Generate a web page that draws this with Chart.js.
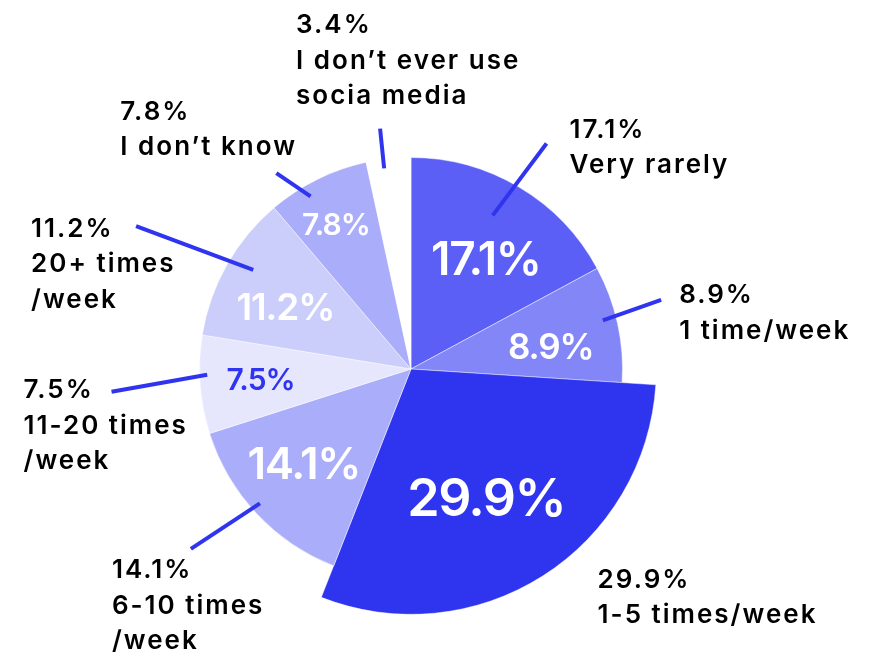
<!DOCTYPE html>
<html>
<head>
<meta charset="utf-8">
<script src="https://cdn.jsdelivr.net/npm/chart.js@4.4.1/dist/chart.umd.min.js"></script>
<style>
  html, body { margin: 0; padding: 0; background: #ffffff; }
  #usageChart { display: block; }
</style>
</head>
<body>
<canvas id="usageChart" width="874" height="656"></canvas>
<script>
// Données
const categories = [
  ['Very rarely'],
  ['1 time/week'],
  ['1-5 times/week'],
  ['6-10 times', '/week'],
  ['11-20 times', '/week'],
  ['20+ times', '/week'],
  ['I don\u2019t know'],
  ['I don\u2019t ever use', 'socia media']
];
const shares = [17.1, 8.9, 29.9, 14.1, 7.5, 11.2, 7.8, 3.4];
const highlighted = 2; // part agrandie (1-5 times/week)

// Couleurs des parts
const sliceColors = ['#5b5ff5', '#8286f7', '#2f34ef', '#aaadf9', '#e6e7fd', '#cbcdfb', '#aaadf9', '#ffffff'];
const accent = '#2f34ef';

// Etiquettes dans les parts : rayon (fraction de R), décalage d'angle (deg), taille, couleur
const innerLabels = [
  { r: 0.634, da: 3.1, size: 46, color: '#ffffff' },
  { r: 0.670, da: 2.7, size: 35, color: '#ffffff' },
  { r: 0.700, da: 1.9, size: 52, color: '#ffffff' },
  { r: 0.671, da: 2.2, size: 44, color: '#ffffff' },
  { r: 0.712, da: 0.5, size: 30, color: accent },
  { r: 0.665, da: -2.7, size: 37, color: '#ffffff' },
  { r: 0.775, da: -0.9, size: 30, color: '#ffffff' },
  null
];

// Légendes extérieures : trait (rayons + décalages d'angle) et position du texte
const callouts = [
  { from: 0.823, to: 1.244, daFrom: -2.8, daTo: 0.2, dx: 23, dy: -15 },
  { from: 0.936, to: 1.227, daFrom: -1.9, daTo: -3.1, dx: 18, dy: -6 },
  { from: null, to: 1.16, daFrom: 0, daTo: 0, dx: 55, dy: 2 },
  { from: 0.956, to: 1.344, daFrom: 1.5, daTo: 3.9, dx: -79, dy: 20 },
  { from: 0.964, to: 1.42, daFrom: 2.6, daTo: -0.1, dx: -88, dy: -3 },
  { from: 0.881, to: 1.465, daFrom: 2.7, daTo: -2.0, dx: -105, dy: 1 },
  { from: 0.944, to: 1.124, daFrom: -3.9, daTo: -8.2, dx: -156, dy: -63 },
  { from: 0.957, to: 1.146, daFrom: -1.5, daTo: -1.2, dx: -84, dy: -105 }
];

const FONT = 'Inter, "Noto Sans", sans-serif';
const CAP = 0.3635; // demi-hauteur des capitales
const LINE_H = 35.5;
const rad = d => d * Math.PI / 180;

// Agrandit la part mise en avant
const bigSlice = {
  id: 'bigSlice',
  afterDatasetUpdate(chart, args) {
    const arcs = args.meta.data;
    chart.$baseRadius = arcs[0].outerRadius;
    arcs[highlighted].outerRadius = chart.$baseRadius * 1.16;
  }
};

// Pourcentages dans les parts + légendes avec traits
const sliceLabels = {
  id: 'sliceLabels',
  afterDatasetsDraw(chart) {
    const c = chart.ctx;
    const arcs = chart.getDatasetMeta(0).data;
    const R = chart.$baseRadius;
    const pt = (arc, a, r) => [arc.x + Math.cos(a) * r, arc.y + Math.sin(a) * r];

    arcs.forEach((arc, i) => {
      const mid = (arc.startAngle + arc.endAngle) / 2;
      const value = shares[i].toFixed(1) + '%';

      const lab = innerLabels[i];
      if (lab) {
        const [x, y] = pt(arc, mid + rad(lab.da), R * lab.r);
        c.save();
        c.font = '600 ' + lab.size + 'px ' + FONT;
        c.letterSpacing = (-lab.size * 0.03).toFixed(1) + 'px';
        c.fillStyle = lab.color;
        c.textAlign = 'center';
        c.textBaseline = 'alphabetic';
        c.fillText(value, x, y + lab.size * 0.38);
        c.restore();
      }

      const co = callouts[i];
      const [ox, oy] = pt(arc, mid + rad(co.daTo), R * co.to);
      if (co.from !== null) {
        const [ix, iy] = pt(arc, mid + rad(co.daFrom), R * co.from);
        c.save();
        c.strokeStyle = accent;
        c.lineWidth = 4;
        c.beginPath();
        c.moveTo(ix, iy);
        c.lineTo(ox, oy);
        c.stroke();
        c.restore();
      }
      const lines = [value].concat(categories[i]);
      c.save();
      c.font = '600 26px ' + FONT;
      c.letterSpacing = '2px';
      c.fillStyle = '#000000';
      c.textAlign = 'left';
      c.textBaseline = 'alphabetic';
      lines.forEach((t, k) => {
        c.fillText(t, ox + co.dx, oy + co.dy + k * LINE_H + 26 * CAP);
      });
      c.restore();
    });
  }
};

const ctx = document.getElementById('usageChart').getContext('2d');
const chart = new Chart(ctx, {
  type: 'pie',
  data: {
    labels: categories.map(l => l.join(' ')),
    datasets: [{
      data: shares,
      backgroundColor: sliceColors,
      borderColor: 'rgba(255,255,255,0.45)',
      borderWidth: 1,
      clip: false
    }]
  },
  options: {
    responsive: false,
    animation: false,
    layout: { padding: { top: 157, bottom: 75, left: 100, right: 152 } },
    plugins: {
      legend: { display: false },
      tooltip: { enabled: false }
    }
  },
  plugins: [bigSlice, sliceLabels]
});
</script>
</body>
</html>
